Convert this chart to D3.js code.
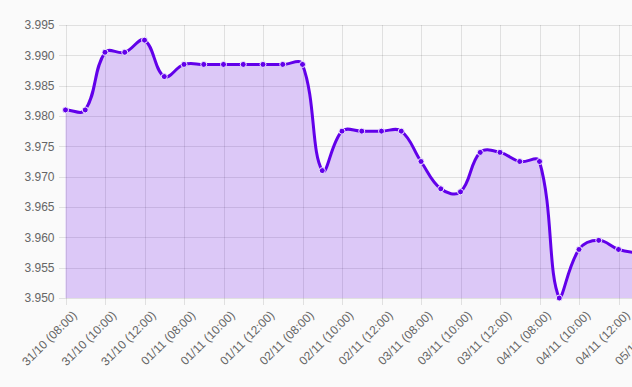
<!DOCTYPE html>
<html>
<head>
<meta charset="utf-8">
<script src="https://cdnjs.cloudflare.com/ajax/libs/d3/7.8.5/d3.min.js"></script>
<style>
    body { margin: 0; background: #fafafa; }
    svg { display: block; font-family: "Liberation Sans", Arial, Helvetica, sans-serif; }
    .grid line { stroke: rgba(0, 0, 0, 0.1); stroke-width: 1; shape-rendering: crispEdges; }
    .tick-label { fill: #666; font-size: 12px; }
    .area { fill: rgba(98, 0, 234, 0.2); }
    .line { fill: none; stroke: #6200ea; stroke-width: 3; }
    .dot { fill: #6200ea; stroke: #efe6fd; stroke-width: 1; }
</style>
</head>
<body>
<svg id="chart" width="632" height="387"></svg>
<script>
// days and hours that make up the category axis (every other one gets a label)
const days = ["31/10", "01/11", "02/11", "03/11", "04/11", "05/11"];
const hours = ["08:00", "09:00", "10:00", "11:00", "12:00", "13:00"];

// exchange rate per category
const values = [
    3.9810, 3.9810, 3.9905, 3.9905, 3.9925, 3.9865,
    3.9885, 3.9885, 3.9885, 3.9885, 3.9885, 3.9885,
    3.9885, 3.9710, 3.9775, 3.9775, 3.9775, 3.9775,
    3.9725, 3.9680, 3.9675, 3.9740, 3.9740, 3.9725,
    3.9725, 3.9500, 3.9580, 3.9595, 3.9580, 3.9574,
    3.9570
];

const yTicks = [3.950, 3.955, 3.960, 3.965, 3.970, 3.975, 3.980, 3.985, 3.990, 3.995];

const labels = days.flatMap(d => hours.map(h => d + " (" + h + ")")).slice(0, values.length);
const data = labels.map((l, i) => ({ label: l, value: values[i] }));

const area = { left: 65.5, right: 658, top: 25, bottom: 298 };

const x = d3.scalePoint()
    .domain(labels)
    .range([area.left, area.right]);

const y = d3.scaleLinear()
    .domain([yTicks[0], yTicks[yTicks.length - 1]])
    .range([area.bottom, area.top]);

/**
 * Spline like the one Chart.js draws (tension 0.4, control points
 * weighted by segment length and capped to the chart area).
 */
function chartSpline(context) {
    return {
        areaStart() { this._line = 0; },
        areaEnd() { this._line = NaN; },
        lineStart() { this._pts = []; },
        point(px, py) { this._pts.push([+px, +py]); },
        lineEnd() {
            const p = this._pts, n = p.length, t = 0.4;
            if (!n) return;
            const ctrl = p.map((cur, i) => {
                const prev = p[Math.max(i - 1, 0)], next = p[Math.min(i + 1, n - 1)];
                const d01 = Math.hypot(cur[0] - prev[0], cur[1] - prev[1]);
                const d12 = Math.hypot(next[0] - cur[0], next[1] - cur[1]);
                let s01 = d01 / (d01 + d12), s12 = d12 / (d01 + d12);
                if (isNaN(s01)) s01 = 0;
                if (isNaN(s12)) s12 = 0;
                const cap = v => Math.max(area.top, Math.min(area.bottom, v));
                return {
                    prev: [cur[0] - t * s01 * (next[0] - prev[0]), cap(cur[1] - t * s01 * (next[1] - prev[1]))],
                    next: [cur[0] + t * s12 * (next[0] - prev[0]), cap(cur[1] + t * s12 * (next[1] - prev[1]))]
                };
            });
            if (this._line) context.lineTo(p[0][0], p[0][1]);
            else context.moveTo(p[0][0], p[0][1]);
            for (let i = 1; i < n; i++) {
                const a = ctrl[i - 1].next, b = ctrl[i].prev;
                context.bezierCurveTo(a[0], a[1], b[0], b[1], p[i][0], p[i][1]);
            }
            if (this._line || (this._line !== 0 && n === 1)) context.closePath();
            this._line = 1 - this._line;
        }
    };
}

const svg = d3.select("#chart");

// grid lines first, so the fill shows them through
const grid = svg.append("g").attr("class", "grid");

grid.selectAll(".hgrid")
    .data(yTicks)
    .enter()
    .append("line")
    .attr("x1", area.left - 7)
    .attr("x2", 632)
    .attr("y1", d => Math.round(y(d)) + 0.5)
    .attr("y2", d => Math.round(y(d)) + 0.5);

const shown = labels.filter((l, i) => i % 2 === 0);

grid.selectAll(".vgrid")
    .data(shown)
    .enter()
    .append("line")
    .attr("x1", d => Math.round(x(d)) + 0.5)
    .attr("x2", d => Math.round(x(d)) + 0.5)
    .attr("y1", area.top)
    .attr("y2", area.bottom + 7);

// y tick labels
svg.append("g").selectAll("text")
    .data(yTicks)
    .enter()
    .append("text")
    .attr("class", "tick-label")
    .attr("x", area.left - 11)
    .attr("y", d => y(d))
    .attr("dy", "0.35em")
    .attr("text-anchor", "end")
    .text(d => d.toFixed(3));

// x tick labels, rotated
svg.append("g").selectAll("text")
    .data(shown)
    .enter()
    .append("text")
    .attr("class", "tick-label")
    .attr("text-anchor", "end")
    .attr("dy", "0.35em")
    .attr("transform", d => "translate(" + (x(d) + 9) + "," + (area.bottom + 15) + ") rotate(-45)")
    .text(d => d);

// filled area and line
svg.append("path")
    .datum(data)
    .attr("class", "area")
    .attr("d", d3.area()
        .x(d => x(d.label))
        .y0(area.bottom)
        .y1(d => y(d.value))
        .curve(chartSpline));

svg.append("path")
    .datum(data)
    .attr("class", "line")
    .attr("d", d3.line()
        .x(d => x(d.label))
        .y(d => y(d.value))
        .curve(chartSpline));

svg.append("g").selectAll("circle")
    .data(data)
    .enter()
    .append("circle")
    .attr("class", "dot")
    .attr("cx", d => x(d.label))
    .attr("cy", d => y(d.value))
    .attr("r", 3);
</script>
</body>
</html>
